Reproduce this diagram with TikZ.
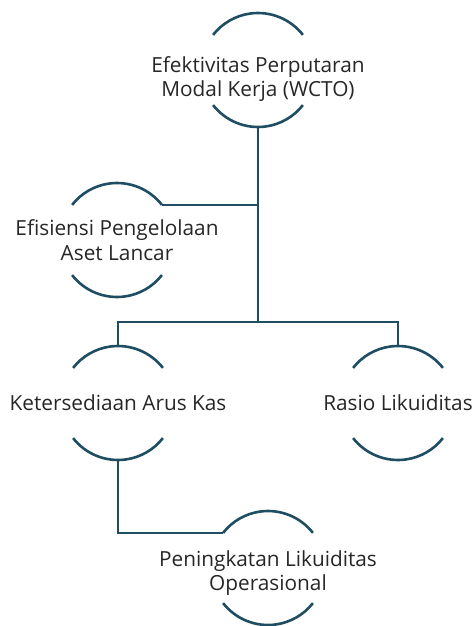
\documentclass[tikz,border=0pt]{standalone}
\usepackage{fontspec}
\setmainfont{Open Sans}
\usetikzlibrary{positioning}
\definecolor{tealline}{HTML}{1F4E63}

\begin{document}
\begin{tikzpicture}[x=1pt,y=1pt,line width=2.6pt,
    ring/.style={inner sep=0pt,align=center,
      font=\fontsize{20.8}{24.5}\selectfont,text=black!85},
    link/.style={draw=tealline}]
  \useasboundingbox (0,0) rectangle (476,-626);
  \node[ring,yshift=-9pt](wcto) at (258,-70)  {Efektivitas Perputaran\\Modal Kerja (WCTO)};
  \node[ring](aset)   at (117,-240) {Efisiensi Pengelolaan\\Aset Lancar};
  \node[ring](kas)    at (118,-403) {Ketersediaan Arus Kas};
  \node[ring](rasio)  at (398,-403) {Rasio Likuiditas};
  \node[ring,yshift=-5pt](ops) at (268,-568) {Peningkatan Likuiditas\\Operasional};
  % centres of the rings
  \coordinate (wcto-c)  at (258,-70);
  \coordinate (aset-c)  at (117,-240);
  \coordinate (kas-c)   at (118,-403);
  \coordinate (rasio-c) at (398,-403);
  \coordinate (ops-c)   at (268,-568);
  \coordinate (bar) at (258,-322);
  % arcs round each text
  \foreach \n in {wcto,aset,kas,rasio,ops}{
    \coordinate (\n-top) at ([yshift=57pt]\n-c);
    \coordinate (\n-bot) at ([yshift=-57pt]\n-c);
    \coordinate (\n-tr) at ([shift={(38:57pt)}]\n-c);
    \coordinate (\n-tl) at ([shift={(142:57pt)}]\n-c);
    \draw[link] (\n-tr) arc (38:142:57pt);
    \draw[link] ([shift={(218:57pt)}]\n-c) arc (218:322:57pt);
  }
  \draw[link] (wcto-bot)--(bar);
  \draw[link] (aset-tr)--(aset-tr -| wcto-bot);
  \draw[link] (kas-top)--(kas-top |- bar)--(rasio-top |- bar)--(rasio-top);
  \draw[link] (kas-bot)--(kas-bot |- ops-tl)--(ops-tl);
\end{tikzpicture}
\end{document}
